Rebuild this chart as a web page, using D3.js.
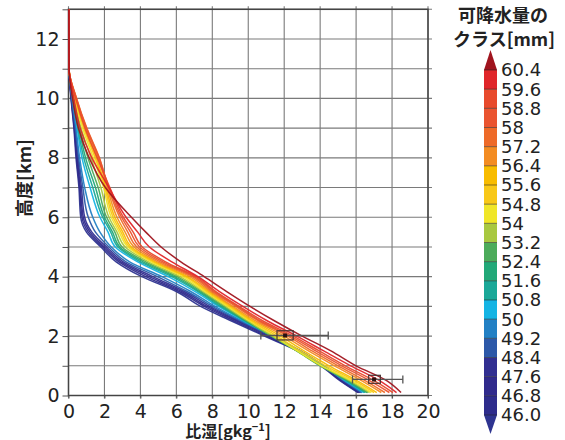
<!DOCTYPE html>
<html><head><meta charset="utf-8">
<script src="https://cdn.jsdelivr.net/npm/d3@7"></script>
<style>body{margin:0;background:#fff}svg{display:block}</style>
</head><body>
<svg id="chart" width="565" height="440"></svg>
<script>
// ---- data ----
const heights = [0.1, 0.5, 1, 1.5, 2, 2.5, 3, 3.5, 4, 4.5, 5, 5.5, 6, 7, 8, 9, 10, 11, 13];
// specific humidity [g/kg] per precipitable water class (lowest class first)
const qC00 = [16.1, 15.1, 14.05, 12.75, 10.9, 9.1, 7.35, 6.0, 4.08, 2.65, 1.8, 1.0, 0.68, 0.58, 0.42, 0.3, 0.14, 0.03, 0.02];
const qC01 = [16.15, 15.15, 14.1, 12.8, 11.0, 9.25, 7.55, 6.15, 4.3, 2.8, 1.9, 1.1, 0.75, 0.62, 0.45, 0.32, 0.15, 0.03, 0.02];
const qC02 = [16.2, 15.2, 14.15, 12.85, 11.1, 9.4, 7.7, 6.3, 4.5, 2.92, 2.0, 1.2, 0.82, 0.66, 0.48, 0.34, 0.16, 0.03, 0.02];
const qC03 = [16.25, 15.25, 14.15, 12.9, 11.2, 9.5, 7.85, 6.45, 4.7, 3.05, 2.12, 1.3, 0.9, 0.72, 0.52, 0.36, 0.17, 0.03, 0.02];
const qC04 = [16.3, 15.3, 14.2, 12.9, 11.3, 9.6, 8.0, 6.6, 4.95, 3.2, 2.25, 1.5, 1.1, 0.8, 0.56, 0.38, 0.18, 0.03, 0.02];
const qC05 = [16.35, 15.35, 14.2, 12.9, 11.4, 9.7, 8.15, 6.8, 5.2, 3.4, 2.38, 1.75, 1.35, 0.9, 0.62, 0.42, 0.2, 0.03, 0.02];
const qC06 = [16.45, 15.4, 14.15, 12.8, 11.35, 9.8, 8.35, 7.05, 5.55, 3.85, 2.6, 2.2, 1.75, 1.2, 0.75, 0.48, 0.22, 0.03, 0.02];
const qC07 = [16.5, 15.45, 14.1, 12.75, 11.3, 9.85, 8.45, 7.2, 5.75, 4.0, 2.75, 2.35, 1.9, 1.35, 0.85, 0.52, 0.24, 0.03, 0.02];
const qC08 = [16.6, 15.5, 14.05, 12.7, 11.3, 9.9, 8.55, 7.3, 5.9, 4.15, 2.85, 2.45, 2.0, 1.5, 0.95, 0.58, 0.26, 0.03, 0.02];
const qC09 = [16.65, 15.55, 14.0, 12.7, 11.3, 9.95, 8.65, 7.4, 6.05, 4.3, 2.98, 2.58, 2.12, 1.65, 1.08, 0.62, 0.28, 0.03, 0.02];
const qC10 = [16.75, 15.65, 14.05, 12.7, 11.35, 10.0, 8.75, 7.5, 6.2, 4.45, 3.15, 2.7, 2.25, 1.8, 1.25, 0.7, 0.31, 0.03, 0.02];
const qC11 = [16.85, 15.75, 14.1, 12.75, 11.45, 10.1, 8.85, 7.6, 6.35, 4.6, 3.3, 2.82, 2.38, 1.95, 1.38, 0.78, 0.34, 0.03, 0.02];
const qC12 = [17.0, 15.9, 14.3, 12.9, 11.6, 10.2, 8.95, 7.7, 6.5, 4.72, 3.4, 2.92, 2.48, 2.02, 1.48, 0.85, 0.37, 0.03, 0.02];
const qC13 = [17.15, 16.05, 14.5, 13.1, 11.8, 10.3, 9.05, 7.8, 6.6, 4.82, 3.5, 3.02, 2.58, 2.08, 1.55, 0.9, 0.4, 0.03, 0.02];
const qC14 = [17.4, 16.3, 14.8, 13.35, 12.0, 10.45, 9.15, 7.9, 6.75, 4.95, 3.65, 3.15, 2.7, 2.15, 1.65, 0.98, 0.43, 0.03, 0.02];
const qC15 = [17.6, 16.5, 15.0, 13.55, 12.2, 10.6, 9.3, 8.0, 6.9, 5.1, 3.8, 3.3, 2.85, 2.2, 1.72, 1.02, 0.45, 0.03, 0.02];
const qC16 = [17.85, 16.75, 15.2, 13.75, 12.35, 10.7, 9.4, 8.1, 7.0, 5.25, 3.95, 3.45, 2.95, 2.25, 1.7, 1.0, 0.44, 0.03, 0.02];
const qC17 = [18.05, 17.0, 15.4, 13.95, 12.5, 10.85, 9.5, 8.2, 7.1, 5.4, 4.1, 3.6, 3.05, 2.3, 1.6, 0.92, 0.4, 0.03, 0.02];
const qC18 = [18.25, 17.3, 15.7, 14.2, 12.7, 11.1, 9.7, 8.4, 7.2, 5.75, 4.5, 3.85, 3.2, 2.25, 1.3, 0.65, 0.3, 0.03, 0.02];
const qC19 = [18.5, 17.7, 16.0, 14.6, 13.0, 11.5, 10.1, 8.8, 7.55, 6.25, 5.15, 4.3, 3.5, 2.05, 1.15, 0.55, 0.22, 0.03, 0.02];
const profiles = [qC00, qC01, qC02, qC03, qC04, qC05, qC06, qC07, qC08, qC09, qC10, qC11, qC12, qC13, qC14, qC15, qC16, qC17, qC18, qC19];

// colour classes (lowest first): below-46.0 triangle, 18 bands, above-60.4 triangle
const classColors = ["#2e3490", "#2e2c8c", "#302a8c", "#312f91", "#2c58a8", "#2280c4", "#14b4e4", "#1aa898", "#22a878", "#4cab5a",
  "#a8c840", "#f0e628", "#f8c818", "#f8bc00", "#f38c22", "#ee6a28", "#ea5430", "#e84a2c", "#e0262a", "#a0141e"];
const cbBounds = [46.0, 46.8, 47.6, 48.4, 49.2, 50.0, 50.8, 51.6, 52.4, 53.2, 54.0, 54.8, 55.6, 56.4, 57.2, 58.0, 58.8, 59.6, 60.4];
const cbLabels = ["46.0", "46.8", "47.6", "48.4", "49.2", "50", "50.8", "51.6", "52.4", "53.2", "54", "54.8", "55.6", "56.4", "57.2", "58", "58.8", "59.6", "60.4"];

// observations: centre, box extent and error bar range
const obsQ = [12.05, 17.0];
const obsH = [2.02, 0.54];
const obsBoxQ = [[11.6, 12.5], [16.7, 17.35]];
const obsBoxH = [[1.87, 2.18], [0.41, 0.68]];
const obsErrQ = [[10.7, 14.45], [15.8, 18.6]];

const xTicks = [0, 2, 4, 6, 8, 10, 12, 14, 16, 18, 20];
const yTicks = [0, 1, 2, 3, 4, 5, 6, 7, 8, 9, 10, 11, 12, 13];

// ---- drawing ----
const svg = d3.select("#chart");
const font = "'DejaVu Sans', sans-serif";
const cjk = "'Noto Sans CJK JP', sans-serif";
const x = d3.scaleLinear().domain([0, 20]).range([68.5, 428]);
const y = d3.scaleLinear().domain([0, 13]).range([395.5, 9.3]);

svg.append("rect").attr("width", 565).attr("height", 440).attr("fill", "#fff");

// grid
const grid = svg.append("g");
grid.selectAll("line.v").data(xTicks).join("line")
  .attr("x1", d => x(d)).attr("x2", d => x(d)).attr("y1", y(13) - 3).attr("y2", y(0) + 3)
  .attr("stroke", "#7a7a7a").attr("stroke-width", 1.1);
grid.selectAll("line.h").data(yTicks).join("line")
  .attr("x1", x(0)).attr("x2", x(20) + 4).attr("y1", d => y(d)).attr("y2", d => y(d))
  .attr("stroke", "#7a7a7a").attr("stroke-width", 1.1);

// axes
const yAxis = svg.append("g").attr("transform", `translate(${x(0)},0)`)
  .call(d3.axisLeft(y).tickValues(yTicks).tickSize(6).tickPadding(3)
    .tickFormat(d => (d % 2 === 0 && d <= 12) ? d : ""));
const xAxis = svg.append("g").attr("transform", `translate(0,${y(0)})`)
  .call(d3.axisBottom(x).tickValues(xTicks).tickSize(3).tickPadding(6));
[xAxis, yAxis].forEach(a => {
  a.select(".domain").remove();
  a.selectAll(".tick line").attr("stroke", "#555");
  a.selectAll("text").attr("font-family", font).attr("font-size", 19).attr("fill", "#222");
});

// border
svg.append("rect").attr("x", x(0)).attr("y", y(13)).attr("width", x(20) - x(0)).attr("height", y(0) - y(13))
  .attr("fill", "none").attr("stroke", "#444").attr("stroke-width", 1.5);

// profiles
const line = d3.line().x(d => x(d[0])).y(d => y(d[1])).curve(d3.curveMonotoneY);
svg.append("g").selectAll("path").data(profiles).join("path")
  .attr("d", q => line(q.map((v, i) => [v, heights[i]])))
  .attr("fill", "none")
  .attr("stroke", (q, i) => classColors[i])
  .attr("stroke-width", 1.5)
  .attr("stroke-opacity", 0.95);

// observations with error bars
const obs = svg.append("g");
obsQ.forEach((q, i) => {
  const yy = y(obsH[i]);
  obs.append("line").attr("x1", x(obsErrQ[i][0])).attr("x2", x(obsErrQ[i][1])).attr("y1", yy).attr("y2", yy)
    .attr("stroke", "#555").attr("stroke-width", 1.3);
  obsErrQ[i].forEach(e => obs.append("line").attr("x1", x(e)).attr("x2", x(e)).attr("y1", yy - 4).attr("y2", yy + 4)
    .attr("stroke", "#555").attr("stroke-width", 1.3));
  obs.append("rect").attr("x", x(obsBoxQ[i][0])).attr("width", x(obsBoxQ[i][1]) - x(obsBoxQ[i][0]))
    .attr("y", y(obsBoxH[i][1])).attr("height", y(obsBoxH[i][0]) - y(obsBoxH[i][1]))
    .attr("fill", "none").attr("stroke", "#4a3232").attr("stroke-width", 1.2);
  obs.append("rect").attr("x", x(q) - 2).attr("y", yy - 2).attr("width", 4).attr("height", 4).attr("fill", "#2a1010");
});

// axis titles
svg.append("text").attr("transform", "translate(31,178) rotate(-90)").attr("text-anchor", "middle")
  .attr("font-family", cjk).attr("font-weight", "bold").attr("font-size", 18).attr("fill", "#222").text("高度[km]");
const xt = svg.append("text").attr("x", 228).attr("y", 437).attr("text-anchor", "middle")
  .attr("font-family", cjk).attr("font-weight", "bold").attr("font-size", 16).attr("fill", "#222");
xt.append("tspan").text("比湿[gkg");
xt.append("tspan").attr("font-size", 11).attr("dy", -6).text("−1");
xt.append("tspan").attr("dy", 6).text("]");

// colour bar
const cbX = 484, cbW = 13;
const cy = d3.scaleLinear().domain([46.0, 60.4]).range([415, 70]);
const cb = svg.append("g");
d3.pairs(cbBounds).forEach((p, i) => {
  cb.append("rect").attr("x", cbX).attr("width", cbW).attr("y", cy(p[1])).attr("height", cy(p[0]) - cy(p[1]))
    .attr("fill", classColors[i + 1]);
});
cb.append("path").attr("d", `M${cbX},${cy(60.4)}L${cbX + cbW},${cy(60.4)}L${cbX + cbW / 2},${cy(60.4) - 20}Z`)
  .attr("fill", classColors[19]);
cb.append("path").attr("d", `M${cbX},${cy(46.0)}L${cbX + cbW},${cy(46.0)}L${cbX + cbW / 2},${cy(46.0) + 19}Z`)
  .attr("fill", classColors[0]);
cb.selectAll("line.sep").data(cbBounds).join("line")
  .attr("x1", cbX).attr("x2", cbX + cbW).attr("y1", d => cy(d)).attr("y2", d => cy(d))
  .attr("stroke", "#222").attr("stroke-opacity", 0.55).attr("stroke-width", 1);
cb.selectAll("text").data(cbBounds).join("text")
  .attr("x", 501).attr("y", d => cy(d)).attr("dy", "0.36em")
  .attr("font-family", font).attr("font-size", 18).attr("fill", "#222")
  .text((d, i) => cbLabels[i]);

// colour bar title
svg.append("text").attr("x", 503).attr("y", 22).attr("text-anchor", "middle")
  .attr("font-family", cjk).attr("font-weight", "bold").attr("font-size", 18).attr("fill", "#222").text("可降水量の");
svg.append("text").attr("x", 504).attr("y", 46).attr("text-anchor", "middle")
  .attr("font-family", cjk).attr("font-weight", "bold").attr("font-size", 18).attr("fill", "#222").text("クラス[mm]");
</script>
</body></html>
